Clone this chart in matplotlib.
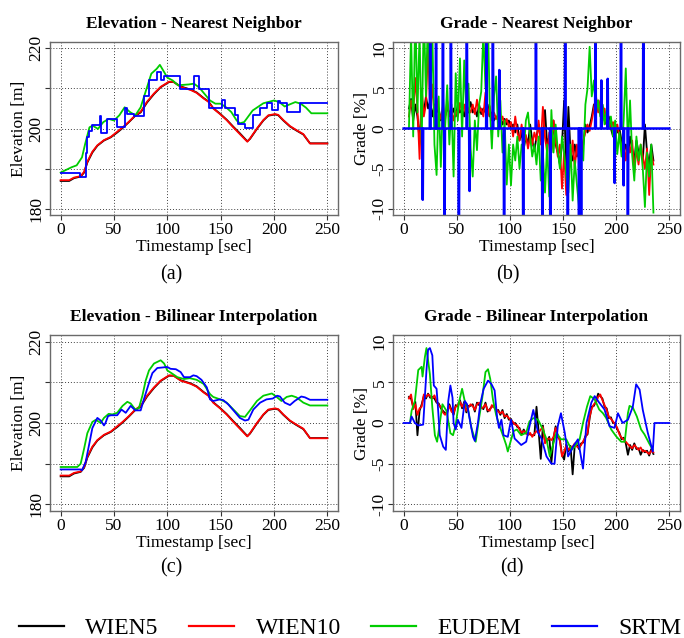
import numpy as np
import matplotlib.pyplot as plt
from matplotlib.lines import Line2D

plt.rcParams['font.family'] = ['Liberation Serif', 'DejaVu Serif']

# colours of the four elevation sources
src_names = ['WIEN5', 'WIEN10', 'EUDEM', 'SRTM']
src_colors = ['#000000', '#ff0000', '#00cd00', '#0000ff']

# ---------------- elevation [m] ----------------
wien_t = [0, 8, 12.5, 18.75, 22, 25, 29.7, 34.4, 40.6, 47,
          53, 58, 64, 70, 75, 81, 87.5, 93.75, 101.6, 106,
          112.5, 122, 127.5, 134, 138.4, 143, 149.4, 155.6, 162, 168,
          175, 177.5, 184, 190, 194.7, 201, 204, 208.75, 215, 221,
          227.5, 233.75, 250]
wien10_elev = [187.1, 187.1, 187.75, 188.1, 189.2, 191.7, 194.2, 195.8, 197.1, 197.9,
               199.2, 200.25, 201.7, 203.3, 204.2, 206.7, 208.75, 210.4, 211.7, 211.6,
               210.4, 209.6, 208.9, 207.5, 206.7, 205.0, 203.6, 202.1, 200.25, 198.6,
               196.7, 197.5, 200.0, 202.1, 203.3, 203.6, 203.4, 202.1, 200.6, 199.6,
               198.6, 196.25, 196.25]
wien5_elev = [186.9, 186.9, 187.6, 188.0, 189.0, 191.5, 194.0, 195.7, 197.0, 197.8,
              199.0, 200.1, 201.6, 203.2, 204.0, 206.5, 208.6, 210.3, 211.6, 211.6,
              210.5, 209.7, 209.0, 207.6, 206.8, 205.1, 203.7, 202.2, 200.4, 198.8,
              196.8, 197.4, 199.9, 202.0, 203.2, 203.5, 203.3, 202.0, 200.5, 199.5,
              198.5, 196.3, 196.3]

eudem_nn_t = [0, 10, 15, 20, 23, 27, 30, 35, 40, 45,
              50, 55, 60, 65, 70, 75, 80, 85, 90, 93,
              97, 100, 105, 110, 120, 125, 130, 140, 145, 150,
              155, 160, 165, 168, 172, 180, 190, 200, 205, 210,
              220, 225, 230, 235, 250]
eudem_nn_elev = [189.0, 190.3, 190.8, 192.8, 196.2, 200.3, 200.7, 199.9, 201.6, 202.4,
                 202.0, 203.3, 205.3, 204.1, 203.3, 205.3, 209.5, 213.7, 214.9, 215.9,
                 214.1, 212.7, 212.0, 210.8, 211.0, 211.2, 210.2, 207.0, 206.2, 206.2,
                 205.3, 204.1, 202.0, 201.3, 201.6, 204.5, 206.3, 207.0, 206.6, 205.5,
                 206.6, 206.2, 205.2, 203.8, 203.8]

srtm_nn_t = [0, 18, 24, 25, 27, 29, 36.5, 38, 43.5, 53,
             60, 62, 68.7, 78, 83, 90.5, 93.6, 96.7, 112, 125,
             130, 139, 151.6, 154, 163.4, 166.6, 173, 180, 187, 193,
             198, 204, 206, 212, 224, 250]
srtm_nn_elev = [188.8, 188.0, 194.0, 197.9, 199.4, 200.9, 203.1, 199.0, 202.3, 200.4,
                205.0, 203.5, 203.0, 208.0, 212.0, 214.1, 212.0, 213.0, 209.9, 213.0,
                209.9, 205.2, 207.0, 205.2, 203.3, 201.2, 200.1, 203.3, 205.0, 206.25,
                204.6, 206.8, 206.25, 204.2, 206.25, 206.25]

eudem_bl_t = [0, 15.6, 18.75, 22, 25, 29.7, 33, 37.5, 40.6, 45,
              48.4, 53, 58, 62.5, 65.6, 70, 73.4, 76.6, 79.7, 82.8,
              87.5, 93.75, 97, 100, 104.7, 109.4, 115.6, 121, 127.5, 134,
              140, 143, 149.4, 155.6, 162, 168, 172.8, 177.5, 184, 190,
              198, 202.5, 207, 211.9, 216.6, 221, 227.5, 233.75, 250]
eudem_bl_elev = [189.2, 189.2, 190.0, 193.75, 197.5, 200.25, 200.8, 200.0, 201.25, 202.25,
                 202.1, 202.5, 204.2, 205.2, 204.8, 203.3, 203.7, 206.7, 210.4, 212.9,
                 214.6, 215.4, 214.6, 212.9, 212.1, 211.25, 210.8, 211.0, 210.6, 209.6,
                 207.1, 206.4, 205.8, 205.0, 203.3, 201.7, 201.5, 203.1, 205.4, 206.7,
                 207.25, 206.4, 205.4, 206.4, 206.7, 206.3, 205.0, 204.3, 204.3]

srtm_bl_t = [0, 18.75, 20, 23.4, 26.6, 29.7, 34.4, 37.5, 40.6, 42,
             44.4, 47, 53, 57, 61, 65.6, 70, 75, 78, 83,
             86, 90.6, 100, 103, 108, 112.5, 115.6, 121.25, 124.4, 127.5,
             132, 137, 140, 143, 149.4, 152.5, 157, 162, 168, 172.8,
             176, 180.6, 187, 193, 198.8, 203, 205.6, 210, 215, 219.4,
             225.6, 229, 233.75, 250]
srtm_bl_elev = [188.6, 188.6, 188.4, 190.4, 194.6, 198.75, 201.25, 200.6, 199.4, 200.0,
                201.7, 201.9, 201.9, 203.3, 202.5, 204.2, 203.1, 203.1, 205.8, 210.0,
                212.25, 213.5, 213.75, 213.3, 213.2, 212.5, 211.25, 211.25, 211.7, 211.5,
                210.6, 208.75, 205.8, 205.4, 205.8, 205.6, 204.6, 203.1, 201.25, 200.6,
                200.8, 203.3, 205.0, 205.8, 206.0, 206.7, 206.5, 205.0, 204.4, 205.4,
                206.5, 206.3, 205.7, 205.7]

# ---------------- grade [%] ----------------
grade_t = np.arange(5, 236, 2)   # sample times for WIEN / EUDEM grades

wien10_nn_grade = [1.5, 3.5, 2.0, 6.3, 2.5, -3.8, 5.0, 1.5, 3.0, 10.5,
                   2.0, 5.5, 1.5, 3.8, 2.0, 1.2, 2.8, 1.0, 3.5, 1.5,
                   2.5, 1.0, 2.2, 1.5, 3.2, 2.0, 3.0, 1.5, 2.5, 2.0,
                   3.0, 1.8, 3.6, 2.0, 2.5, 1.5, 4.5, 1.5, 2.8, 1.0,
                   2.0, 1.2, 1.8, 0.8, 1.5, 0.5, 1.2, 0.2, 0.8, -1.0,
                   1.5, -0.5, -1.5, 0.5, -1.8, -0.8, -2.5, -1.0, -2.0, -0.5,
                   -1.5, 1.0, -2.0, 2.7, -1.0, -3.0, -0.5, -2.5, 1.0, -1.5,
                   -3.5, -2.0, -7.5, -3.0, -8.3, -2.5, -4.5, -1.5, -5.0, -2.0,
                   -4.0, -3.0, -1.5, -0.5, 0.5, -0.3, 1.0, 2.5, 4.0, 2.0,
                   3.5, 1.5, 2.5, 0.5, 1.0, 0.2, 0.8, -0.5, 0.5, -1.0,
                   -2.5, -1.5, -4.0, -2.0, -3.0, -1.5, -5.5, -2.5, -4.5, -2.0,
                   -3.5, -5.0, -2.5, -8.3, -3.0, -4.5]
wien5_nn_grade = [2.5, 3.7, 1.0, 3.0, 1.5, -1.5, 3.0, 2.0, 4.0, 2.5,
                  3.5, 1.5, 3.0, 2.0, 2.5, 1.0, 2.0, 1.5, 2.5, 2.0,
                  1.5, 2.5, 1.5, 3.0, 2.0, 2.5, 1.5, 3.0, 2.0, 3.3,
                  2.0, 2.5, 1.5, 3.0, 1.8, 2.5, 2.0, 3.0, 1.5, 2.0,
                  1.0, 1.5, 1.0, 1.5, 0.5, 1.2, 0.5, 1.0, 0.0, 0.5,
                  -0.5, 0.5, -1.5, -0.5, -2.5, -1.0, -2.0, 0.5, -1.5, -2.8,
                  -1.0, 0.5, -1.5, -2.5, 2.3, -2.0, -1.0, -3.0, 1.0, -2.0,
                  -3.0, -4.5, -2.0, 3.5, -5.5, 2.7, -3.0, -4.0, -2.0, -3.5,
                  -2.5, -3.5, -2.0, 0.5, -0.5, 0.3, 1.5, 3.0, 2.0, 3.5,
                  2.0, 3.0, 1.0, 0.5, 1.5, 0.0, -1.0, 0.5, -0.5, 0.0,
                  -1.5, -3.0, -2.0, -3.5, -1.0, -2.5, -4.0, -1.5, -3.0, -2.5,
                  -4.0, 0.5, -3.0, -4.5, -2.0, -4.0]
eudem_nn_grade = [0.0, 12, -1, 15, 2, 12, -2, 15, 4, 15,
                  3, 12, -2, -5.8, 4, -4.8, 4.0, 0, 5.4, -2,
                  3, -6.0, 6.9, 1, 8.75, -1, 8.5, 2, 5.6, -2.5,
                  -6.0, 1, -2.7, 3, 4.6, 12, 5, 15, 3, -2.5,
                  4, 6.5, -1, 3.5, -3.0, 1, -7.0, -2, -7.1, -2,
                  -4, -1, -5, -2, -3, 1, 2.0, -1, -3.5, -2,
                  -4.5, -1, -6.5, -3, -8.0, -2, -8.5, 2.3, -3, 0.5,
                  -2.7, -5, -1, -3, -6, -8.0, -2, -9.0, -4, -7,
                  -9.8, -2.5, -4, 3.0, 5.0, 10.2, 4, 6.0, 2, 3.5,
                  1.5, 3.0, 0.5, 2.5, 0, 1.5, -1, 1.0, -3.2, -0.5,
                  -3.5, 1, 7.5, -2, 3.5, -3.3, -6.5, -1, -4, -2,
                  -5, -9.8, -3, -6, -2, -10.5]
# SRTM nearest neighbour: zero except at the elevation steps
srtm_nn_spike_t = [18, 25, 30.5, 37, 38.5, 44.5, 52, 59.5, 62, 78,
                   84, 90, 94.5, 112.5, 124.5, 130.5, 138, 152, 154.5, 165,
                   167, 180.5, 186, 192, 198.5, 204.5, 207, 211, 225.5]
srtm_nn_spike_g = [-8.9, 15, 15, 15, -15, 15, -15, 15, -7.8, 15,
                   15, 7.3, -15, -15, 15, -15, -15, 15, -15, -15,
                   -15, 15, 6.0, 6.2, -6.8, 15, -7.1, -15, 15]
grade_end = 250

wien10_bl_grade = [3.0, 3.5, 1.7, 2.3, 1.0, 1.8, 2.0, 3.5, 3.2, 3.5,
                   3.3, 3.0, 3.4, 2.7, 2.2, 2.0, 1.3, 1.0, 1.5, 2.1,
                   1.4, 1.2, 2.0, 2.2, 2.6, 2.0, 2.4, 1.5, 1.9, 2.3,
                   2.1, 1.6, 2.3, 2.5, 1.8, 1.9, 2.3, 1.6, 1.5, 2.2,
                   1.9, 1.7, 1.4, 1.2, 1.4, 0.8, 0.9, 0.6, 0.3, 0.1,
                   -0.2, -0.3, -0.8, -1.2, -1.0, -1.1, -1.5, -1.2, -1.7, -1.3,
                   -1.0, -1.2, -0.8, -0.5, -2.5, -2.0, -1.9, -2.1, -1.7, -0.6,
                   -1.5, -2.2, -4.1, -3.5, -2.8, -3.3, -3.0, -2.9, -2.5, -2.9,
                   -3.0, -2.7, -2.2, -1.8, -1.2, 0.8, 1.8, 2.3, 2.5, 3.2,
                   3.5, 2.8, 2.2, 1.6, 0.8, 0.5, 0.2, -0.2, -0.6, -1.4,
                   -1.8, -2.0, -2.3, -2.6, -2.9, -3.1, -2.7, -3.0, -3.3, -3.0,
                   -3.5, -3.4, -3.6, -3.8, -3.4, -3.6]
wien5_bl_grade = [3.2, 3.0, 2.0, 2.6, -1.5, 1.5, 2.3, 3.3, 3.0, 3.6,
                  3.1, 3.2, 3.0, 2.5, 2.4, 1.8, 1.5, 1.2, 1.3, 2.3,
                  1.6, 1.0, 2.2, 2.0, 2.8, 1.8, 2.6, 1.3, 2.1, 2.1,
                  2.3, 1.4, 2.5, 2.2, 2.0, 1.7, 2.5, 1.4, 1.7, 2.0,
                  2.1, 1.5, 1.6, 1.0, 1.6, 0.6, 1.1, 0.4, 0.5, -0.1,
                  0.0, -0.5, -0.6, -1.4, -0.8, -1.3, -1.3, -1.4, -1.5, -1.5,
                  2.0, -1.0, -4.4, -0.3, -2.3, -2.2, -1.7, -4.9, -1.9, -0.4,
                  -1.7, -2.0, -3.9, -4.5, -2.6, -3.5, -2.8, -6.3, -2.7, -2.7,
                  -3.2, -2.5, -2.4, -1.6, -1.4, 0.6, 2.0, 2.1, 2.7, 3.6,
                  3.3, 3.0, 2.0, 1.8, 0.6, 0.7, 0.0, 0.0, -0.8, -1.2,
                  -2.0, -1.8, -2.5, -3.9, -2.7, -3.3, -2.5, -3.2, -3.1, -3.9,
                  -3.3, -3.6, -3.4, -4.0, -3.2, -3.8]

eudem_bl_gt = [6, 7.5, 10.6, 13.75, 16.9, 17.8, 20, 21.5, 24.7, 27,
               29.4, 31.5, 33.4, 36.5, 40.3, 44, 46.5, 49, 52, 55,
               57.5, 60.6, 63.75, 67.8, 71, 74, 77, 79.4, 81.5, 84,
               87, 90.3, 93.4, 96.5, 98, 101, 103.4, 106.5, 110.6, 115.3,
               118.4, 122, 126.5, 131, 134.4, 137.5, 143.75, 148, 153, 158,
               161, 165.6, 168.75, 172.5, 175.6, 179.7, 184, 187.5, 190.6, 195.3,
               200, 204.7, 208, 211, 212.5, 215.6, 219.4, 223.4, 226.6, 231,
               234.4]
eudem_bl_grade = [0, 1.5, 2.7, 6.5, 6.9, 5.7, 8.1, 9.2, 6.0, 1.9,
                  -1.5, -2.3, -0.6, 2.3, 1.5, -1.25, -1.5, -0.2, 2.5, 4.2,
                  2.7, 1.7, -0.6, -2.3, 0.6, 3.1, 6.25, 6.6, 5.4, 2.9,
                  1.0, -0.4, -1.5, -2.7, -3.5, -2.1, -1.0, -0.8, -1.5, -1.2,
                  0.2, 0.6, 0.4, -0.8, -2.0, -4.1, -1.2, -2.0, -2.0, -3.3,
                  -2.9, -2.0, 0, 2.0, 3.3, 2.9, 1.65, 1.2, 0.6, -0.8,
                  -1.65, -2.3, -2.3, 1.2, 2.1, 1.9, 0.8, -0.8, -1.4, -2.5,
                  -3.3]

srtm_bl_gt = [0, 6, 7.5, 10.6, 13.75, 18.4, 21.5, 23, 24.7, 27,
              28.4, 31, 32.5, 34, 37.2, 39.7, 42, 44, 46, 47,
              49, 51, 54.4, 57.5, 59.7, 62, 65.3, 67, 70, 72,
              75.3, 79.4, 82.5, 85.6, 88, 89.7, 92, 94, 98, 101,
              104.4, 107.5, 110.6, 115.3, 118.4, 122, 126.5, 129.7, 134.4, 139,
              142, 145, 148, 151.6, 154.7, 159.4, 164, 168.75, 172, 176.6,
              179.7, 184, 189, 193.75, 198.4, 201.6, 206, 211, 215.6, 218.75,
              222, 225, 229.7, 234.4, 236, 250]
srtm_bl_grade = [0, 0, 0.8, 0, -0.3, -0.2, 6.5, 9.0, 9.2, 8.3,
                 4.6, 4.2, 1.5, -1.5, -2.9, -3.3, 2.7, 4.6, 3.1, 0,
                 -0.8, 0.4, -0.6, 2.7, 2.3, 0.6, -1.7, -2.2, 0.1, 2.3,
                 4.2, 5.2, 4.8, 4.0, 0.6, -0.6, 0.4, -1.5, -1.7, 0.4,
                 -1.9, -2.3, -2.7, -2.3, -0.4, 1.6, -1.2, -1.9, -4.1, -5.0,
                 -5.0, -0.4, 1.2, -1.2, -4.1, -2.9, -2.0, -5.6, 0, 2.5,
                 3.3, 2.5, 1.65, -0.4, -0.6, 1.2, 0, 0.4, 2.0, 4.75,
                 4.1, 1.6, -1.2, -3.5, 0, 0]

elev_ticks = [180, 190, 200, 210, 220]
elev_labels = ['180', '', '200', '', '220']
grade_ticks = [-10, -5, 0, 5, 10]
time_ticks = [0, 50, 100, 150, 200, 250]

LW = 1.3
FS = 12.5


def r_style(ax, title, yticks, ylabels, ylim, ylabel):
    ax.set_xlim(-10, 260)
    ax.set_ylim(*ylim)
    ax.set_xticks(time_ticks)
    ax.set_yticks(yticks)
    ax.set_yticklabels(ylabels)
    ax.tick_params(direction='out', length=3.6, width=0.8, color='#333333',
                   labelsize=FS)
    ax.tick_params(axis='x', pad=1.5)
    ax.tick_params(axis='y', pad=0.2)
    plt.setp(ax.get_yticklabels(), rotation=90, va='center')
    for sp in ax.spines.values():
        sp.set_color('#6a6a6a')
        sp.set_linewidth(1.0)
    ax.grid(True, linestyle=(0, (1, 2)), color='#404040', linewidth=0.7)
    ax.set_axisbelow(True)
    ax.set_title(title, fontsize=FS, fontweight='bold', pad=10)
    ax.set_xlabel('Timestamp [sec]', fontsize=FS, labelpad=0.5)
    ax.set_ylabel(ylabel, fontsize=FS, labelpad=1.5)


def spike_series(spike_t, spike_g, end):
    ts, gs = [0], [0]
    for t, g in zip(spike_t, spike_g):
        ts += [t - 0.4, t, t + 0.4]
        gs += [0, g, 0]
    ts.append(end)
    gs.append(0)
    return ts, gs


fig = plt.figure(figsize=(6.84, 6.38), dpi=100)
W, H = 684, 638
ax_a = fig.add_axes([50 / W, 1 - 215 / H, 288 / W, 173 / H])
ax_b = fig.add_axes([393 / W, 1 - 215 / H, 287 / W, 173 / H])
ax_c = fig.add_axes([50 / W, 1 - 511 / H, 288 / W, 176 / H])
ax_d = fig.add_axes([393 / W, 1 - 511 / H, 287 / W, 176 / H])

elev_lim = (178.4, 221.6)
grade_lim = (-10.8, 10.8)

# (a) elevation - nearest neighbour
ax_a.plot(wien_t, wien5_elev, color=src_colors[0], lw=LW)
ax_a.plot(wien_t, wien10_elev, color=src_colors[1], lw=LW)
ax_a.plot(eudem_nn_t, eudem_nn_elev, color=src_colors[2], lw=LW)
ax_a.step(srtm_nn_t, srtm_nn_elev, where='post', color=src_colors[3], lw=LW)
r_style(ax_a, 'Elevation - Nearest Neighbor', elev_ticks, elev_labels,
        elev_lim, 'Elevation [m]')

# (b) grade - nearest neighbour
ax_b.plot(grade_t, wien5_nn_grade, color=src_colors[0], lw=LW)
ax_b.plot(grade_t, wien10_nn_grade, color=src_colors[1], lw=LW)
ax_b.plot(grade_t, eudem_nn_grade, color=src_colors[2], lw=LW)
st, sg = spike_series(srtm_nn_spike_t, srtm_nn_spike_g, grade_end)
ax_b.plot(st, sg, color=src_colors[3], lw=1.8)
r_style(ax_b, 'Grade - Nearest Neighbor', grade_ticks,
        [str(v) for v in grade_ticks], grade_lim, 'Grade [%]')

# (c) elevation - bilinear
ax_c.plot(wien_t, wien5_elev, color=src_colors[0], lw=LW)
ax_c.plot(wien_t, wien10_elev, color=src_colors[1], lw=LW)
ax_c.plot(eudem_bl_t, eudem_bl_elev, color=src_colors[2], lw=LW)
ax_c.plot(srtm_bl_t, srtm_bl_elev, color=src_colors[3], lw=LW)
r_style(ax_c, 'Elevation - Bilinear Interpolation', elev_ticks, elev_labels,
        elev_lim, 'Elevation [m]')

# (d) grade - bilinear
ax_d.plot(grade_t, wien5_bl_grade, color=src_colors[0], lw=LW)
ax_d.plot(grade_t, wien10_bl_grade, color=src_colors[1], lw=LW)
ax_d.plot(eudem_bl_gt, eudem_bl_grade, color=src_colors[2], lw=LW)
ax_d.plot(srtm_bl_gt, srtm_bl_grade, color=src_colors[3], lw=LW)
r_style(ax_d, 'Grade - Bilinear Interpolation', grade_ticks,
        [str(v) for v in grade_ticks], grade_lim, 'Grade [%]')

# sub-figure captions
for lab, x, y in [('(a)', 171, 275), ('(b)', 508, 275),
                  ('(c)', 171, 568), ('(d)', 512, 568)]:
    fig.text(x / W, 1 - y / H, lab, fontsize=14.5, ha='center', va='center')

handles = [Line2D([], [], color=c, lw=1.6) for c in src_colors]
fig.legend(handles, src_names, loc='center', bbox_to_anchor=(0.512, 1 - 628 / H),
           ncol=4, frameon=False, fontsize=17, handlelength=1.9,
           handletextpad=0.9, columnspacing=1.3)

fig.savefig('out.png', dpi=100)
